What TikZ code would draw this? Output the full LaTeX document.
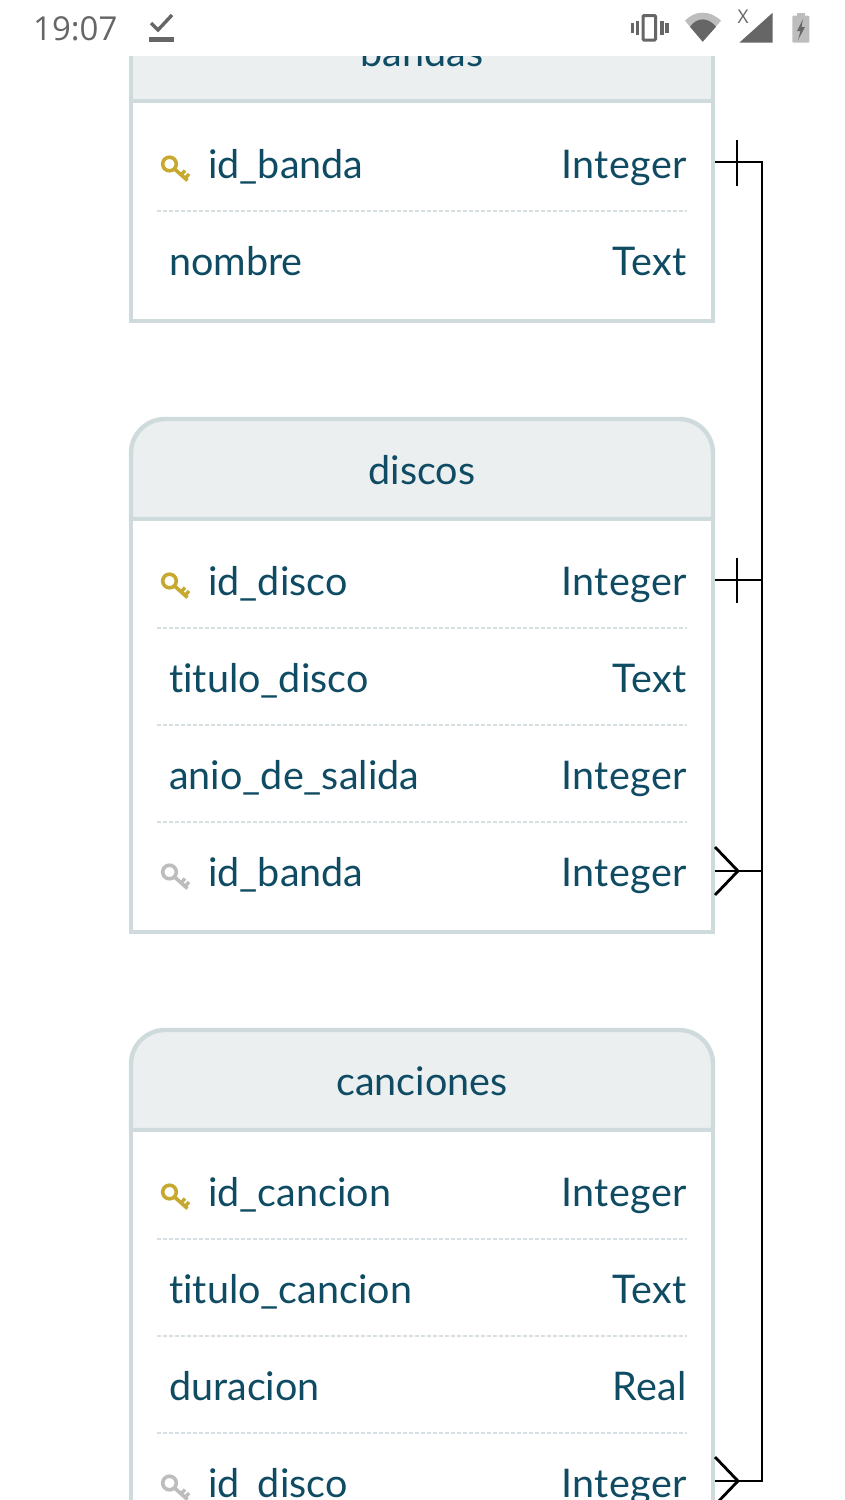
\documentclass[tikz,border=0pt]{standalone}
\usepackage{fontspec}
\setmainfont{Lato}[Ligatures=NoCommon]
\newfontfamily\statusfont{Open Sans}
\newfontfamily\tipofont{Lato}[LetterSpace=1.0,Ligatures=NoCommon]
\usetikzlibrary{positioning,arrows.meta}
\definecolor{tablaborde}{HTML}{CFDADD}
\definecolor{tablacabeza}{HTML}{EBEFF0}
\definecolor{tablatexto}{HTML}{0F4C64}
\definecolor{llaveoro}{HTML}{C6A92E}
\definecolor{llavegris}{HTML}{BDBDBD}
\definecolor{estado}{HTML}{666666}
\tikzset{
  campo/.style={anchor=base west,inner sep=0pt,text=tablatexto,font=\fontsize{39.5}{46}\selectfont},
  tipo/.style={anchor=base east,inner sep=0pt,text=tablatexto,font=\tipofont\fontsize{39.5}{46}\selectfont},
  titulo/.style={anchor=base,inner sep=0pt,text=tablatexto,font=\fontsize{39.5}{46}\selectfont},
  borde/.style={draw=tablaborde,line width=4.4pt},
  punteado/.style={draw=tablaborde!85,line width=2pt,dash pattern=on 4pt off 2pt},
  enlace/.style={draw=black,line width=2.8pt},
  llave/.pic={
    \draw[line width=3.6pt,pic actions] (0,0) circle (6.8);
    \draw[line width=3.6pt,pic actions] (4.8,4.8) -- (18,16.5);
    \draw[line width=3.4pt,pic actions] (11.5,11) -- (15.5,6.5);
    \draw[line width=3.4pt,pic actions] (15.5,14.5) -- (19.5,10);
  }
}
\begin{document}
\begin{tikzpicture}[x=1pt,y=-1pt]
\useasboundingbox (0,0) rectangle (844,1500);
\clip (0,0) rectangle (844,1500);
% bandas
\draw[borde,fill=tablacabeza] (131,1) rectangle (713,101);
\draw[borde,fill=white] (131,101) rectangle (713,321);
\node[titulo] (bandas) at (422,66) {bandas};
\node[campo] (bandasid) at (208,178) {id\_banda};
\node[tipo] (bandasidtipo) at (687,178) {Integer};
\draw[punteado] (157,211) -- (687,211);
\node[campo] (bandasnombre) at (169,275) {nombre};
\node[tipo] (bandasnombretipo) at (687,275) {Text};
\pic[llaveoro] at (169.5,164) {llave};
\coordinate (bandasfin) at (715,162);
% discos
\draw[borde,fill=tablacabeza] (131,519) [rounded corners=34pt] -- (131,419) -- (713,419) [sharp corners] -- (713,519) -- cycle;
\draw[borde,fill=white] (131,519) rectangle (713,932);
\node[titulo] (discos) at (422,484) {discos};
\node[campo] (discosid) at (208,595) {id\_disco};
\node[tipo] (discosidtipo) at (687,595) {Integer};
\draw[punteado] (157,628) -- (687,628);
\node[campo] (discostitulo) at (169,692) {titulo\_disco};
\node[tipo] (discostitulotipo) at (687,692) {Text};
\draw[punteado] (157,725) -- (687,725);
\node[campo] (discosanio) at (169,789) {anio\_de\_salida};
\node[tipo] (discosaniotipo) at (687,789) {Integer};
\draw[punteado] (157,822) -- (687,822);
\node[campo] (discosbanda) at (208,886) {id\_banda};
\node[tipo] (discosbandatipo) at (687,886) {Integer};
\pic[llaveoro] at (169.5,581) {llave};
\pic[llavegris] at (169.5,872) {llave};
\coordinate (discosfin) at (715,580);
\coordinate (discosmuchos) at (715,871);
% canciones
\draw[borde,fill=tablacabeza] (131,1130) [rounded corners=34pt] -- (131,1030) -- (713,1030) [sharp corners] -- (713,1130) -- cycle;
\draw[borde,fill=white] (131,1130) rectangle (713,1560);
\node[titulo] (canciones) at (422,1095) {canciones};
\node[campo] (cancionesid) at (208,1206) {id\_cancion};
\node[tipo] (cancionesidtipo) at (687,1206) {Integer};
\draw[punteado] (157,1239) -- (687,1239);
\node[campo] (cancionestitulo) at (169,1303) {titulo\_cancion};
\node[tipo] (cancionestitulotipo) at (687,1303) {Text};
\draw[punteado] (157,1336) -- (687,1336);
\node[campo] (cancionesduracion) at (169,1400) {duracion};
\node[tipo] (cancionesduraciontipo) at (687,1400) {Real};
\draw[punteado] (157,1433) -- (687,1433);
\node[campo] (cancionesdisco) at (208,1497) {id\_disco};
\node[tipo] (cancionesdiscotipo) at (687,1497) {Integer};
\pic[llaveoro] at (169.5,1192) {llave};
\pic[llavegris] at (169.5,1483) {llave};
\coordinate (cancionesmuchos) at (715,1481);
% enlaces
\coordinate (esquinauno) at (762,162);
\coordinate (esquinados) at (762,580);
\coordinate (esquinatres) at (762,871);
\coordinate (esquinacuatro) at (762,1481);
\draw[enlace] (bandasfin) -- (esquinauno) -- (esquinacuatro) -- (cancionesmuchos);
\draw[enlace] (discosfin) -- (esquinados);
\draw[enlace] (discosmuchos) -- (esquinatres);
\draw[enlace] (737,140) -- (737,186);
\draw[enlace] (737,558) -- (737,603);
\draw[enlace] (715,847) -- (738,871) -- (715,895);
\draw[enlace] (715,1457) -- (738,1481) -- (715,1505);
% barra de estado
\fill[white] (0,0) rectangle (844,56);
\node[anchor=base west,inner sep=0pt,text=estado,font=\statusfont\fontsize{33}{38}\selectfont] (hora) at (33,40) {19:07};
\draw[estado,line width=3.4pt] (151,23) -- (158,30) -- (172,15);
\fill[estado] (149,37) rectangle (174,42);
\draw[estado,line width=3pt,rounded corners=1pt] (643,15.5) rectangle (655.5,40);
\fill[estado] (635.5,21) rectangle (639,35);
\fill[estado] (630.5,23) rectangle (634,33);
\fill[estado] (660,21) rectangle (663.5,35);
\fill[estado] (665,23) rectangle (668.5,33);
\fill[llavegris] (702.7,41.7) -- (685,20.7) .. controls (695,10) and (710,10) .. (721,20.7) -- cycle;
\fill[estado] (702.7,41.7) -- (690,26.7) .. controls (697,17) and (708,17) .. (716,26.7) -- cycle;
\fill[estado] (739.3,42.7) -- (772.7,12.7) -- (772.7,42.7) -- cycle;
\node[inner sep=0pt,text=estado,font=\statusfont\fontsize{19}{22}\selectfont] (sinred) at (743,17) {X};
\fill[llavegris] (796.7,12.7) rectangle (805,16);
\fill[llavegris,rounded corners=1pt] (792.3,15.7) rectangle (809.3,42.7);
\fill[estado] (803,19) -- (797,31) -- (800.5,31) -- (798,40) -- (805,27) -- (801.5,27) -- cycle;
\end{tikzpicture}
\end{document}
